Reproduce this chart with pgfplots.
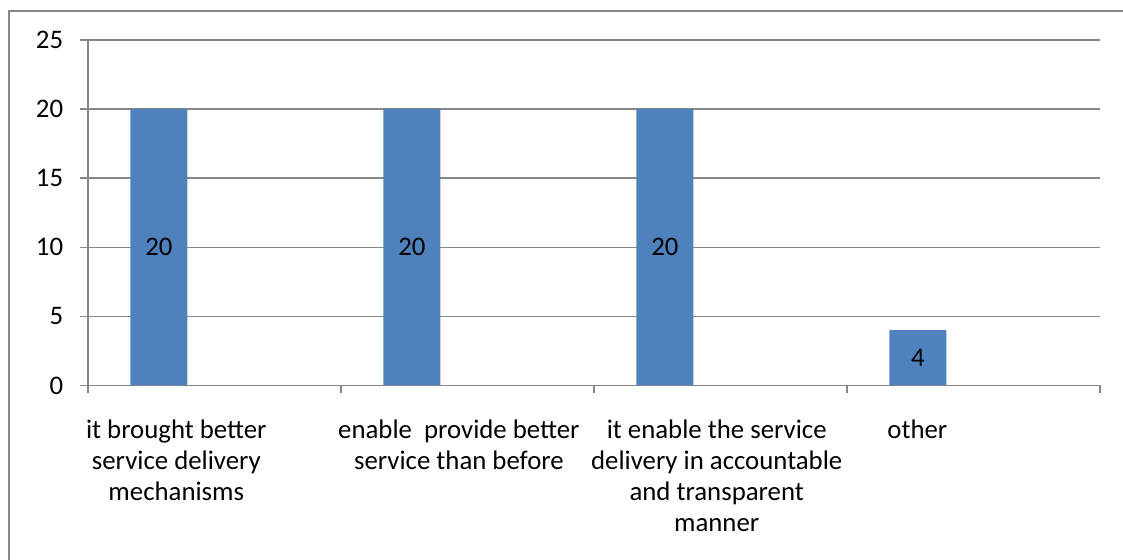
\documentclass[border=0pt]{standalone}
\usepackage{fontspec}
\setmainfont{Carlito}
\usepackage{pgfplots}
\pgfplotsset{compat=1.18}
\definecolor{barblue}{HTML}{4F81BD}
\definecolor{gridgray}{HTML}{878787}
\begin{document}
\fontsize{13.4}{15.5}\selectfont
\begin{tikzpicture}
\path[use as bounding box] (0,0) rectangle (561.5pt,-280pt);
\draw[gridgray, line width=0.75pt] (4.5pt,-282pt) -- (4.5pt,-5.5pt) -- (563pt,-5.5pt);
\begin{axis}[
  at={(44pt,-192.75pt)}, anchor=south west,
  scale only axis, width=506pt, height=172.75pt,
  xmin=0, xmax=4, ymin=0, ymax=25,
  clip=false,
  axis x line=bottom, axis y line=left,
  axis line style={gridgray, line width=0.75pt, -},
  ytick={0,5,...,25},
  ymajorgrids, grid style={gridgray, line width=0.75pt},
  xtick={0,1,2,3,4}, xticklabel=\empty,
  tick align=outside, major tick length=3.75pt,
  tick style={gridgray, line width=0.75pt},
  /pgf/number format/assume math mode=true,
  yticklabel style={anchor=east, inner sep=0pt, xshift=-8.5pt, font=\fontsize{13.4}{15.5}\selectfont},
  label style={font=\fontsize{13.4}{15.5}\selectfont},
]
\addplot[ybar, bar width=0.225, fill=barblue, draw=none]
  coordinates {(0.28,20) (1.28,20) (2.28,20) (3.28,4)};
\addplot[draw=none, mark=none, nodes near coords, point meta=explicit symbolic,
  every node near coord/.append style={anchor=center, inner sep=0pt, text=black, font=\fontsize{13.4}{15.5}\selectfont}]
  coordinates {(0.28,10)[20] (1.28,10)[20] (2.28,10)[20] (3.28,2)[4]};
\begin{scope}[every node/.style={anchor=north, align=center, inner sep=0pt, yshift=-16.75pt, font=\fontsize{13.4}{15.5}\selectfont}]
\node at (axis cs:0.349,0) {it brought better\\service delivery\\mechanisms};
\node at (axis cs:1.466,0) {enable\ \ provide better\\service than before};
\node at (axis cs:2.485,0) {it enable the service\\delivery in accountable\\and transparent\\manner};
\node at (axis cs:3.278,0) {other};
\end{scope}
\end{axis}
\end{tikzpicture}
\end{document}
